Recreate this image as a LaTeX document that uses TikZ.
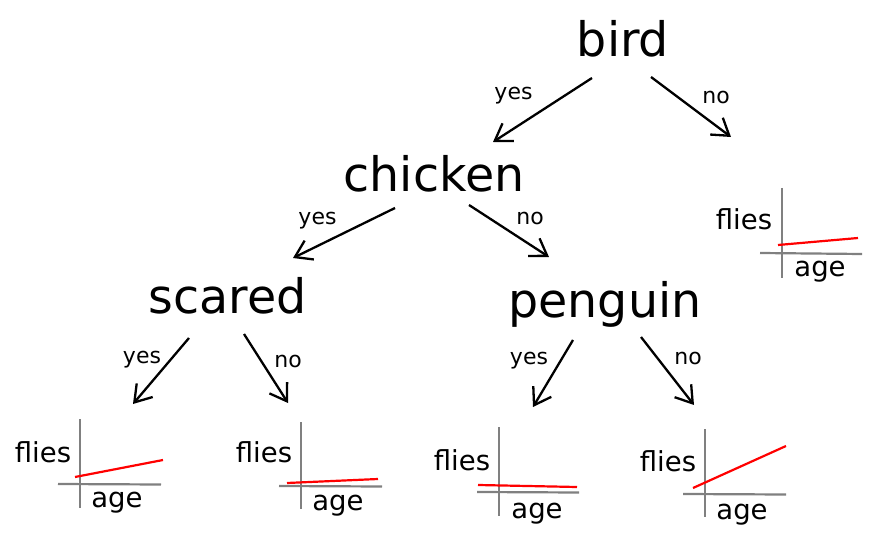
\documentclass[tikz,border=0pt]{standalone}
\usepackage{fontspec}
\setmainfont{DejaVu Sans}
\usetikzlibrary{arrows.meta}
\begin{document}
\begin{tikzpicture}[x=1bp,y=-1bp,
  big/.style={anchor=base,inner sep=0pt,font=\fontsize{47.5bp}{52bp}\selectfont},
  lbl/.style={anchor=base,inner sep=0pt,font=\fontsize{22bp}{26bp}\selectfont},
  axlbl/.style={anchor=base,inner sep=0pt,font=\fontsize{27.5bp}{30bp}\selectfont},
  branch/.style={draw=black,line width=2.3bp,-{Straight Barb[length=16bp,width=21bp]}},
  axisline/.style={draw=gray,line width=2.2bp},
  trend/.style={draw=red,line width=2.2bp}]
\useasboundingbox (0,0) rectangle (888,533);

% decision nodes
\node[big] (bird) at (623,57) {bird};
\node[big] (chicken) at (434,192) {chicken};
\node[big] (scared) at (227.5,314) {scared};
\node[big] (penguin) at (605,318) {penguin};

% connector ends
\coordinate (birdY) at (592,78);   \coordinate (birdYe) at (493,142);
\coordinate (birdN) at (651,77);   \coordinate (birdNe) at (731,137);
\coordinate (chickY) at (395,208); \coordinate (chickYe) at (293,258);
\coordinate (chickN) at (469,205); \coordinate (chickNe) at (549,257);
\coordinate (scarY) at (189,338);  \coordinate (scarYe) at (133,404);
\coordinate (scarN) at (244,334);  \coordinate (scarNe) at (288,403);
\coordinate (pengY) at (573,340);  \coordinate (pengYe) at (533,407);
\coordinate (pengN) at (641,337);  \coordinate (pengNe) at (694,405);

\draw[branch] (birdY) -- (birdYe);
\draw[branch] (birdN) -- (birdNe);
\draw[branch] (chickY) -- (chickYe);
\draw[branch] (chickN) -- (chickNe);
\draw[branch] (scarY) -- (scarYe);
\draw[branch] (scarN) -- (scarNe);
\draw[branch] (pengY) -- (pengYe);
\draw[branch] (pengN) -- (pengNe);

% branch labels
\node[lbl] (l1) at (513.5,100) {yes};
\node[lbl] (l2) at (716,104) {no};
\node[lbl] (l3) at (317.5,225) {yes};
\node[lbl] (l4) at (530,225) {no};
\node[lbl] (l5) at (142,363) {yes};
\node[lbl] (l6) at (288,367) {no};
\node[lbl] (l7) at (529,364) {yes};
\node[lbl] (l8) at (688,364) {no};

% plot: bird / no
\draw[axisline] (782,188) -- (782,278);
\draw[axisline] (760,253) -- (862,254);
\draw[trend] (778,245) -- (858,238);
\node[axlbl] (f0) at (744,230) {flies};
\node[axlbl] (a0) at (820,277) {age};

% plot: scared / yes
\draw[axisline] (80,419) -- (80,508);
\draw[axisline] (58,484) -- (161,484.5);
\draw[trend] (75,477) -- (163,460);
\node[axlbl] (f1) at (43,462) {flies};
\node[axlbl] (a1) at (117,507) {age};

% plot: scared / no
\draw[axisline] (301,422) -- (301,509);
\draw[axisline] (279,486) -- (382,486.5);
\draw[trend] (287,483) -- (378,479);
\node[axlbl] (f2) at (264,462) {flies};
\node[axlbl] (a2) at (338,510) {age};

% plot: penguin / yes
\draw[axisline] (499,427) -- (499,516);
\draw[axisline] (477,492) -- (579,492.5);
\draw[trend] (478,485) -- (577,487);
\node[axlbl] (f3) at (462,470) {flies};
\node[axlbl] (a3) at (537,518) {age};

% plot: penguin / no
\draw[axisline] (705,429) -- (705,517);
\draw[axisline] (683,494) -- (786,494.5);
\draw[trend] (693,488) -- (786,446);
\node[axlbl] (f4) at (668,471) {flies};
\node[axlbl] (a4) at (742,519) {age};
\end{tikzpicture}
\end{document}
